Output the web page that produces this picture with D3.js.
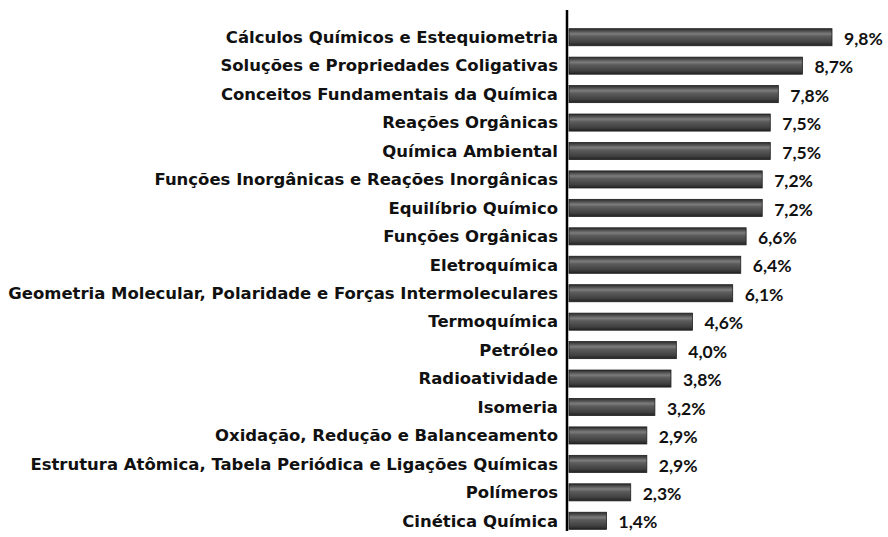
<!DOCTYPE html>
<html><head><meta charset="utf-8">
<script src="https://cdn.jsdelivr.net/npm/d3@7"></script>
<style>html,body{margin:0;padding:0;background:#fff;}svg{display:block;}</style>
</head><body>
<script>
const categories = [
  "Cálculos Químicos e Estequiometria",
  "Soluções e Propriedades Coligativas",
  "Conceitos Fundamentais da Química",
  "Reações Orgânicas",
  "Química Ambiental",
  "Funções Inorgânicas e Reações Inorgânicas",
  "Equilíbrio Químico",
  "Funções Orgânicas",
  "Eletroquímica",
  "Geometria Molecular, Polaridade e Forças Intermoleculares",
  "Termoquímica",
  "Petróleo",
  "Radioatividade",
  "Isomeria",
  "Oxidação, Redução e Balanceamento",
  "Estrutura Atômica, Tabela Periódica e Ligações Químicas",
  "Polímeros",
  "Cinética Química"
];
const values = [9.8, 8.7, 7.8, 7.5, 7.5, 7.2, 7.2, 6.6, 6.4, 6.1, 4.6, 4.0, 3.8, 3.2, 2.9, 2.9, 2.3, 1.4];
const valueLabels = ["9,8%","8,7%","7,8%","7,5%","7,5%","7,2%","7,2%","6,6%","6,4%","6,1%","4,6%","4,0%","3,8%","3,2%","2,9%","2,9%","2,3%","1,4%"];

const W = 888, H = 537;
const svg = d3.select("body").append("svg").attr("width", W).attr("height", H);
const defs = svg.append("defs");
const g1 = defs.append("linearGradient").attr("id","barg").attr("x1",0).attr("y1",0).attr("x2",0).attr("y2",1);
[[0,"#2a2a2a"],[0.12,"#4a4a4a"],[0.3,"#7c7c7c"],[0.45,"#5c5c5c"],[0.8,"#404040"],[1,"#222"]].forEach(([o,c])=>g1.append("stop").attr("offset",o).attr("stop-color",c));

const x = d3.scaleLinear().domain([0, 9.8]).range([569, 832]);
const y = d3.scaleBand().domain(categories).range([23, 535]).paddingInner(0.4).paddingOuter(0.2);

const font = "'DejaVu Sans', sans-serif";

svg.append("g").selectAll("rect").data(values).join("rect")
  .attr("x", x(0))
  .attr("y", (d,i)=>y(categories[i]))
  .attr("width", d=>x(d)-x(0))
  .attr("height", y.bandwidth())
  .attr("fill","url(#barg)")
  .attr("stroke","#1e1e1e").attr("stroke-width",0.8);

const labels = svg.append("g").selectAll("text").data(categories).join("text")
  .attr("x", 558)
  .attr("y", d=>y(d)+y.bandwidth()/2)
  .attr("dy","0.35em")
  .attr("text-anchor","end")
  .style("font-family", font).style("font-weight",700).style("font-size","16px").attr("fill","#111")
  .text(d=>d);
// fit longest label to the reference width (~550px)
let maxW = 0;
labels.each(function(){ maxW = Math.max(maxW, this.getComputedTextLength()); });
const fs = 16 * 550 / maxW;
labels.style("font-size", fs + "px");

svg.append("g").selectAll("text").data(values).join("text")
  .attr("x", d=>x(d)+12)
  .attr("y", (d,i)=>y(categories[i])+y.bandwidth()/2+1.5)
  .attr("dy","0.35em")
  .style("font-family", "Lato, sans-serif").style("font-weight",700).style("font-size","17.5px").attr("fill","#111")
  .text((d,i)=>valueLabels[i]);

svg.append("line").attr("x1",567).attr("x2",567).attr("y1",10).attr("y2",531)
  .attr("stroke","#000").attr("stroke-width",2.5);
</script>
</body></html>
